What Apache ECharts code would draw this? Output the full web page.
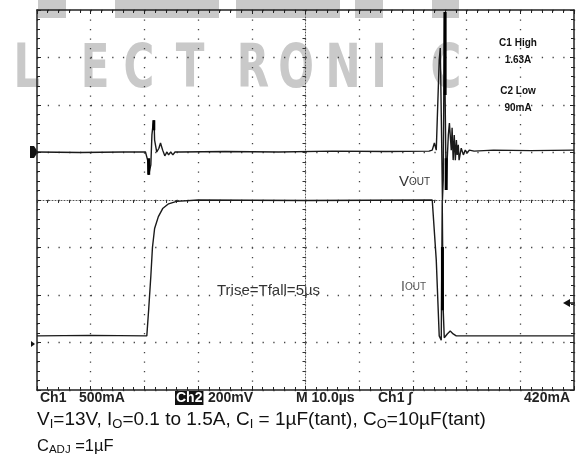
<!DOCTYPE html>
<html>
<head>
<meta charset="utf-8">
<script src="https://cdn.jsdelivr.net/npm/echarts@6/dist/echarts.min.js"></script>
<style>
  html, body { margin: 0; padding: 0; background: #fff; }
  #chart { width: 585px; height: 460px; }
</style>
</head>
<body>
<div id="chart"></div>
<script>
// scope capture: time in us from screen centre (10 us/div), amplitude in divisions (8 div tall)
const ch1Time = [-50, -40, -29.55, -29.2, -28.8, -28.5, -28.1, -27.4, -26.6, -25.5, -24, -20, 0,
  23.6, 24.35, 24.9, 25.28, 25.46, 25.65, 25.84, 26.4, 26.95, 27.5, 28.07, 40, 50];
const ch1Div = [-2.86, -2.85, -2.86, -2.3, -1.6, -1.0, -0.6, -0.35, -0.18, -0.08, -0.03, 0, -0.01,
  0, -1.26, -2.86, -2.95, 0, -2.32, -2.9, -2.82, -2.76, -2.82, -2.86, -2.86, -2.86];

const ch2Time = [-50, -42, -34, -29.8, -29.4, -29.2, -28.8, -28.6, -28.4, -28.2, -28.1, -27.7, -27.3,
  -27.0, -26.6, -26.2, -25.8, -25.5, -25.1, -24.7, -24.3, -24.0, -23.4, -15, -5, 5, 15,
  23.0, 23.6, 24.0, 24.35, 24.7, 24.9, 25.1, 25.3, 25.5, 25.65, 25.85, 26.0, 26.2, 26.4, 26.6,
  26.8, 26.95, 27.15, 27.3, 27.5, 27.7, 27.9, 28.1, 28.25, 28.45, 28.6, 29.0, 29.4, 29.75, 30.1,
  30.5, 31.4, 35, 42, 50];
const ch2Div = [1.01, 1.0, 1.01, 1.01, 0.84, 0.53, 0.74, 1.37, 1.58, 1.68, 1.26, 1.01, 1.09,
  1.2, 1.05, 0.93, 1.01, 0.95, 1.01, 0.95, 1.01, 0.97, 1.01, 1.02, 1.01, 1.03, 1.02,
  1.03, 1.05, 1.2, 1.05, 1.09, 2.95, 3.2, 1.68, 0, 0.42, 3.96, 2.21, 0.21, 0.88, 1.37,
  1.62, 1.37, 1.05, 1.52, 0.84, 1.37, 0.84, 1.26, 0.95, 1.16, 0.84, 1.09, 0.95, 1.05, 0.99,
  1.05, 1.03, 1.05, 1.04, 1.05];

// heavier sample runs (null = pen up)
const thickTime = [-29.2, -29.2, null, -28.25, -28.25, null, 25.5, 25.5, null, 26.0, 26.0, null, 26.2, 26.2];
const thickDiv = [0.88, 0.53, null, 1.68, 1.47, null, -0.99, -2.32, null, 3.96, 2.21, null, 0.88, 0.21];

// watermark
const letters = ['L', 'E', 'C', 'T', 'R', 'O', 'N', 'I', 'C'];
const letterX = [27, 95, 139, 190, 253, 296, 343, 379, 446];
const blockX0 = [38, 115, 236, 355, 432];
const blockX1 = [66, 219, 340, 383, 459];

function pairs(xs, ys) {
  return xs.map((x, i) => (x === null ? ['-', '-'] : [x, ys[i]]));
}

const chart = echarts.init(document.getElementById('chart'));

const ink = '#1a1a1a';
const border = {
  onZero: false,
  lineStyle: { color: '#222', width: 1.5 }
};
const edgeTick = { show: true, inside: true, length: 4, lineStyle: { color: '#222' } };
const edgeMinor = { show: true, splitNumber: 5, length: 3, lineStyle: { color: '#222' } };

const xBase = { type: 'value', min: -50, max: 50, interval: 10, axisLabel: { show: false } };
const yBase = { type: 'value', min: -4, max: 4, interval: 1, axisLabel: { show: false } };

const graphic = [];
letters.forEach((ch, i) => {
  graphic.push({
    type: 'text', x: letterX[i], y: 71, z: -100, scaleX: 0.7, originX: 0, originY: 0,
    style: {
      text: ch, fill: '#c9c9c9', font: 'bold 60px "DejaVu Sans"',
      align: 'center', verticalAlign: 'middle'
    }
  });
});
blockX0.forEach((x0, i) => {
  graphic.push({
    type: 'rect', z: -100,
    shape: { x: x0, y: 0, width: blockX1[i] - x0, height: 18 },
    style: { fill: '#c9c9c9' }
  });
});

// ground / trigger markers
graphic.push(
  { type: 'polygon', shape: { points: [[30, 146], [34, 146], [38, 152], [34, 158], [30, 158]] }, style: { fill: '#111' } },
  { type: 'polygon', shape: { points: [[31, 341], [35, 344], [31, 347]] }, style: { fill: '#111' } },
  { type: 'polygon', shape: { points: [[563, 303], [570, 299], [570, 307]] }, style: { fill: '#111' } },
  { type: 'line', shape: { x1: 568, y1: 303, x2: 575, y2: 303 }, style: { stroke: '#111', lineWidth: 1.5 } }
);

// in-screen annotations
const smallBold = 'bold 10px "Liberation Sans"';
[['C1 High', 43], ['1.63A', 60], ['C2 Low', 91], ['90mA', 108]].forEach(([t, y]) => {
  graphic.push({ type: 'text', x: 518, y: y, style: { text: t, font: smallBold, fill: '#111', align: 'center', verticalAlign: 'middle' } });
});
graphic.push(
  {
    type: 'text', x: 399, y: 182,
    style: {
      text: '{a|V}{b|OUT}', verticalAlign: 'middle',
      rich: {
        a: { fontSize: 15, fontFamily: 'Liberation Sans', fill: '#333', lineHeight: 16 },
        b: { fontSize: 10, fontFamily: 'Liberation Sans', fill: '#333', lineHeight: 16 }
      }
    }
  },
  {
    type: 'text', x: 401, y: 287,
    style: {
      text: '{a|I}{b|OUT}', verticalAlign: 'middle',
      rich: {
        a: { fontSize: 14, fontFamily: 'Liberation Sans', fill: '#555', lineHeight: 16 },
        b: { fontSize: 10, fontFamily: 'Liberation Sans', fill: '#555', lineHeight: 16 }
      }
    }
  },
  {
    type: 'text', x: 217, y: 291,
    style: { text: 'Trise=Tfall=5\u00b5s', font: '15px "Liberation Sans"', fill: '#333', verticalAlign: 'middle' }
  }
);

// scope status line
const stat = 'bold 14px "Liberation Sans"';
[['Ch1', 40, 'left'], ['500mA', 79, 'left'], ['200mV', 208, 'left'], ['M 10.0\u00b5s', 296, 'left'],
 ['Ch1 \u222b', 378, 'left'], ['420mA', 570, 'right']].forEach(([t, x, a]) => {
  graphic.push({ type: 'text', x: x, y: 398, style: { text: t, font: stat, fill: '#222', align: a, verticalAlign: 'middle' } });
});
graphic.push({
  type: 'text', x: 175, y: 398,
  style: { text: 'Ch2', font: stat, fill: '#fff', backgroundColor: '#111', padding: [0, 1], verticalAlign: 'middle' }
});

// caption with subscripts
const capRich = {
  n: { fontSize: 19, fontFamily: 'Liberation Sans', fill: '#111', lineHeight: 22 },
  s: { fontSize: 13, fontFamily: 'Liberation Sans', fill: '#111', lineHeight: 13, verticalAlign: 'bottom' }
};
const capRich2 = {
  n: { fontSize: 16.5, fontFamily: 'Liberation Sans', fill: '#111', lineHeight: 20 },
  s: { fontSize: 11.5, fontFamily: 'Liberation Sans', fill: '#111', lineHeight: 12, verticalAlign: 'bottom' }
};
graphic.push(
  {
    type: 'text', x: 37, y: 420,
    style: {
      text: '{n|V}{s|I}{n|=13V, I}{s|O}{n|=0.1 to 1.5A, C}{s|I}{n| = 1\u00b5F(tant), C}{s|O}{n|=10\u00b5F(tant)}',
      verticalAlign: 'middle', rich: capRich
    }
  },
  {
    type: 'text', x: 37, y: 446,
    style: { text: '{n|C}{s|ADJ}{n| =1\u00b5F}', verticalAlign: 'middle', rich: capRich2 }
  }
);

const option = {
  animation: false,
  backgroundColor: '#fff',
  grid: { left: 37, top: 10, width: 537, height: 380 },
  xAxis: [
    Object.assign({}, xBase, {
      position: 'bottom', axisLine: border, axisTick: edgeTick, minorTick: edgeMinor,
      splitLine: { show: true, lineStyle: { color: '#444', width: 1.3, type: [1.3, 8.2] } }
    }),
    Object.assign({}, xBase, {
      position: 'top', axisLine: border, axisTick: edgeTick, minorTick: edgeMinor, splitLine: { show: false }
    }),
    Object.assign({}, xBase, {
      position: 'bottom',
      axisLine: { onZero: true, onZeroAxisIndex: 0, lineStyle: { color: '#555', width: 1, type: [1, 2] } },
      axisTick: { show: true, length: 3, lineStyle: { color: '#333' } },
      minorTick: { show: true, splitNumber: 5, length: 3, lineStyle: { color: '#333' } },
      splitLine: { show: false }
    })
  ],
  yAxis: [
    Object.assign({}, yBase, {
      position: 'left', axisLine: border, axisTick: edgeTick, minorTick: edgeMinor,
      splitLine: { show: true, lineStyle: { color: '#444', width: 1.3, type: [1.3, 9.44] } }
    }),
    Object.assign({}, yBase, {
      position: 'right', axisLine: border, axisTick: edgeTick, minorTick: edgeMinor, splitLine: { show: false }
    }),
    Object.assign({}, yBase, {
      position: 'left',
      axisLine: { onZero: true, onZeroAxisIndex: 0, lineStyle: { color: '#555', width: 1, type: [1, 2] } },
      axisTick: { show: true, length: 3, lineStyle: { color: '#333' } },
      minorTick: { show: true, splitNumber: 5, length: 3, lineStyle: { color: '#333' } },
      splitLine: { show: false }
    })
  ],
  graphic: graphic,
  series: [
    {
      name: 'IOUT', type: 'line', xAxisIndex: 0, yAxisIndex: 0, data: pairs(ch1Time, ch1Div),
      showSymbol: false, z: 5, lineStyle: { color: ink, width: 1.4 }
    },
    {
      name: 'VOUT', type: 'line', xAxisIndex: 0, yAxisIndex: 0, data: pairs(ch2Time, ch2Div),
      showSymbol: false, z: 5, lineStyle: { color: ink, width: 1.4 }
    },
    {
      name: 'heavy', type: 'line', xAxisIndex: 0, yAxisIndex: 0, data: pairs(thickTime, thickDiv),
      showSymbol: false, connectNulls: false, z: 6, lineStyle: { color: '#000', width: 3 }
    }
  ]
};

chart.setOption(option);
</script>
</body>
</html>
